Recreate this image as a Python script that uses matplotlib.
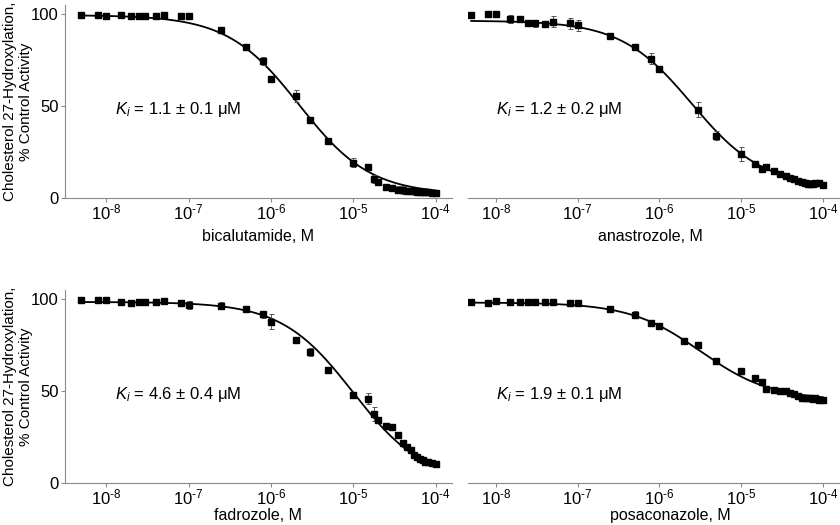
import numpy as np
import matplotlib
matplotlib.use('Agg')
import matplotlib.pyplot as plt
from matplotlib.ticker import FixedLocator, FuncFormatter, NullLocator

plt.rcParams['font.family'] = ['Liberation Sans', 'DejaVu Sans']
plt.rcParams['mathtext.fontset'] = 'custom'
plt.rcParams['mathtext.rm'] = 'Liberation Sans'
plt.rcParams['mathtext.it'] = 'Liberation Sans:italic'
plt.rcParams['mathtext.bf'] = 'Liberation Sans:bold'
plt.rcParams['font.size'] = 11

# concentrations, M
conc = [5e-9, 8e-9, 1e-8, 1.5e-8, 2e-8, 2.5e-8, 3e-8, 4e-8, 5e-8, 8e-8, 1e-7,
        2.5e-7, 5e-7, 8e-7, 1e-6, 2e-6, 3e-6, 5e-6, 1e-5, 1.5e-5, 1.8e-5, 2e-5,
        2.5e-5, 3e-5, 3.5e-5, 4e-5, 4.5e-5, 5e-5, 5.5e-5, 6e-5, 6.5e-5, 7e-5,
        7.5e-5, 8e-5, 9e-5, 1e-4]
# anastrozole has no 2 uM point
conc_ana = [c for c in conc if c != 2e-6]

bica = [99.5, 99.3, 99.2, 99.5, 99.0, 99.2, 99.0, 99.1, 99.8, 98.8, 99.0,
        91.5, 82.0, 74.5, 64.8, 55.5, 42.5, 31.2, 19.3, 17.0, 10.4, 8.6,
        6.0, 5.3, 4.6, 4.3, 4.0, 3.8, 3.6, 3.5, 3.3, 3.2,
        3.0, 3.0, 2.9, 2.8]
bica_err = [0, 0, 0, 0, 0, 0, 0, 0, 0, 0, 0,
            0, 0, 2, 0, 3, 0, 0, 2.5, 0, 2, 0,
            0, 0, 2, 2, 0, 0, 0, 0, 0, 0,
            0, 0, 0, 0]

ana = [99.5, 100, 100, 97.3, 97.6, 95.1, 95.1, 94.4, 95.8, 95.1, 94.0,
       88.2, 82.2, 75.8, 70.3, 48.1, 34.0, 24.0, 18.6, 15.7, 16.6,
       14.6, 13.1, 12.2, 10.9, 10.2, 9.5, 8.7, 8.0, 7.5, 7.5,
       7.6, 8.0, 8.3, 6.9]
ana_err = [0, 0, 0, 2, 0, 0, 2, 0, 3, 3, 3,
           0, 0, 3, 0, 4, 2.5, 4, 0, 0, 0,
           0, 0, 0, 0, 0, 0, 0, 0, 0, 0,
           0, 0, 0, 0]

fad = [99.6, 99.6, 99.6, 98.4, 97.8, 98.5, 98.5, 98.4, 99.0, 97.8, 96.9,
       96.5, 94.9, 91.8, 87.8, 77.9, 71.2, 61.6, 48.0, 45.8, 37.6, 34.4,
       31.2, 30.2, 25.9, 21.7, 19.6, 17.7, 15.4, 14.1, 13.0, 12.3,
       11.6, 11.2, 11.0, 10.5]
fad_err = [0, 0, 0, 0, 0, 0, 0, 0, 0, 0, 2,
           2, 0, 2, 4, 0, 2, 0, 0, 3, 4, 0,
           0, 0, 0, 0, 0, 0, 0, 0, 0, 0,
           0, 0, 0, 0]

posa = [98.4, 98.0, 98.9, 98.2, 98.4, 98.2, 98.2, 98.2, 98.7, 98.0, 97.8,
        94.9, 91.5, 87.3, 85.5, 77.5, 75.2, 66.5, 61.2, 57.1, 54.7, 51.2,
        50.7, 50.3, 49.8, 48.9, 48.4, 47.1, 46.4, 46.0, 46.0, 46.1,
        45.8, 46.0, 45.3, 45.3]
posa_err = [0, 0, 0, 0, 0, 0, 0, 0, 0, 0, 0,
            0, 2, 1.5, 0, 0, 0, 0, 0, 0, 0, 0,
            0, 0, 0, 0, 0, 0, 0, 0, 0, 0,
            0, 0, 0, 0]

# fitted curve parameters: top, bottom, IC50, hill
fit_bica = (99.5, 2.0, 2.2e-6, 1.0)
fit_ana = (96.5, 6.0, 2.5e-6, 1.0)
fit_fad = (98.5, 0.0, 1.0e-5, 1.0)
fit_posa = (98.2, 45.0, 3.2e-6, 1.0)

ki_texts = ['1.1 ± 0.1', '1.2 ± 0.2', '4.6 ± 0.4', '1.9 ± 0.1']
xlabels = ['bicalutamide, M', 'anastrozole, M', 'fadrozole, M', 'posaconazole, M']

panels = [
    (conc, bica, bica_err, fit_bica),
    (conc_ana, ana, ana_err, fit_ana),
    (conc, fad, fad_err, fit_fad),
    (conc, posa, posa_err, fit_posa),
]


def dec_fmt(v, pos):
    return r'$10^{' + '\u2010' + '%d}$' % round(-np.log10(v))


W, H = 840, 525
fig = plt.figure(figsize=(8.4, 5.25), dpi=100)
rects = [
    [65 / W, 1 - 198 / H, 387 / W, 193 / H],
    [468 / W, 1 - 198 / H, 372 / W, 193 / H],
    [65 / W, 1 - 483 / H, 387 / W, 193 / H],
    [468 / W, 1 - 483 / H, 372 / W, 193 / H],
]
xlims = [(10 ** -8.5, 10 ** -3.8), (10 ** -8.34, 10 ** -3.79)] * 2
label_xy = [(0.5, -0.16), (0.49, -0.16), (0.5, -0.13), (0.545, -0.13)]
gray = '#8a8a8a'

for i, (x, y, e, p) in enumerate(panels):
    ax = fig.add_axes(rects[i])
    top, bot, ic50, hill = p
    xx = np.logspace(np.log10(x[0]), np.log10(x[-1]), 300)
    ax.plot(xx, bot + (top - bot) / (1 + (xx / ic50) ** hill), color='black', lw=1.3, zorder=2)
    x = np.array(x)
    y = np.array(y)
    e = np.array(e)
    m = e > 0
    ax.errorbar(x[m], y[m], yerr=e[m], fmt='none', ecolor='#555555', elinewidth=0.7,
                capsize=1.8, capthick=0.7, zorder=3)
    ax.plot(x, y, 's', color='black', ms=5, zorder=4)

    ax.set_xscale('log')
    ax.set_xlim(*xlims[i])
    ax.set_ylim(0, 105)
    ax.xaxis.set_major_locator(FixedLocator([1e-8, 1e-7, 1e-6, 1e-5, 1e-4]))
    ax.xaxis.set_minor_locator(NullLocator())
    ax.xaxis.set_major_formatter(FuncFormatter(dec_fmt))
    for s in ['top', 'right']:
        ax.spines[s].set_visible(False)
    ax.spines['bottom'].set_color(gray)
    ax.spines['left'].set_color(gray)
    ax.tick_params(axis='both', colors=gray, labelcolor='black', length=3,
                   width=0.8, labelsize=12, pad=1.5)
    ax.tick_params(axis='x', pad=0)
    ax.patch.set_visible(False)

    if i % 2 == 0:
        ax.set_yticks([0, 50, 100])
        ax.set_ylabel('Cholesterol 27-Hydroxylation,\n% Control Activity',
                      fontsize=11, linespacing=1.25)
        ax.yaxis.set_label_coords(-0.082, 0.5)
    else:
        ax.spines['left'].set_visible(False)
        ax.set_yticks([])

    ax.set_xlabel(xlabels[i], fontsize=11.5)
    ax.xaxis.set_label_coords(*label_xy[i])

    kx = 10 ** -7.89 if i % 2 == 0 else 10 ** -8.0
    ax.text(kx, 48, r'$K_i$ = ' + ki_texts[i] + ' μM', fontsize=12, va='center', ha='left')

fig.savefig('out.png', dpi=100)
